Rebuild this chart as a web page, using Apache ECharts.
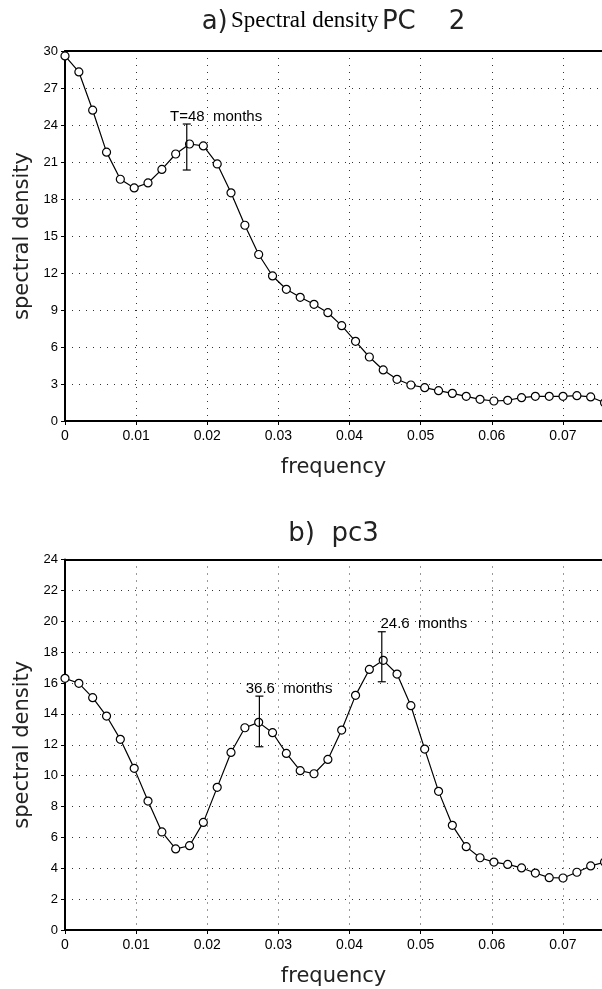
<!DOCTYPE html>
<html>
<head>
<meta charset="utf-8">
<script src="https://cdn.jsdelivr.net/npm/echarts@6/dist/echarts.min.js"></script>
<style>
html,body{margin:0;padding:0;background:#fff;}
#chart{width:602px;height:989px;}
</style>
</head>
<body>
<div id="chart"></div>
<script>
// frequencies of the spectral estimates
const freq = [0, 0.00195, 0.00389, 0.00584, 0.00778, 0.00973, 0.01167, 0.01362, 0.01556, 0.01751,
  0.01945, 0.0214, 0.02334, 0.02529, 0.02723, 0.02918, 0.03112, 0.03307, 0.03501, 0.03696,
  0.0389, 0.04085, 0.04279, 0.04474, 0.04668, 0.04863, 0.05057, 0.05252, 0.05446, 0.05641,
  0.05835, 0.0603, 0.06224, 0.06419, 0.06613, 0.06808, 0.07002, 0.07197, 0.07391, 0.07586];

// a) PC 2 spectral density
const densityPC2 = [29.6, 28.3, 25.2, 21.8, 19.6, 18.9, 19.3, 20.4, 21.65, 22.46,
  22.3, 20.84, 18.5, 15.87, 13.5, 11.76, 10.68, 10.03, 9.46, 8.78,
  7.73, 6.46, 5.19, 4.14, 3.38, 2.92, 2.7, 2.46, 2.24, 2.0,
  1.76, 1.62, 1.68, 1.89, 2.0, 2.0, 2.0, 2.05, 1.95, 1.48];

// b) pc3 spectral density
const densityPC3 = [16.3, 15.98, 15.05, 13.86, 12.35, 10.47, 8.35, 6.35, 5.25, 5.46,
  6.97, 9.24, 11.5, 13.1, 13.45, 12.78, 11.44, 10.32, 10.12, 11.05,
  12.95, 15.2, 16.88, 17.47, 16.58, 14.53, 11.72, 8.98, 6.78, 5.4,
  4.68, 4.4, 4.25, 4.02, 3.69, 3.39, 3.37, 3.74, 4.15, 4.4];

// error bars: [frequency, low, high, labelFreq, labelValue]
const errPC2 = [[0.01712, 20.35, 24.08, 0.01477, 24.65]];
const errPC2Labels = ['T=48  months'];
const errPC3 = [[0.02733, 11.87, 15.15, 0.02541, 15.65], [0.04454, 16.08, 19.32, 0.04435, 19.86]];
const errPC3Labels = ['36.6  months', '24.6  months'];

const yTicksTop = {min: 0, max: 30, interval: 3};
const yTicksBottom = {min: 0, max: 24, interval: 2};
const xRange = {min: 0, max: 0.0755, interval: 0.01};

const FONT = 'Liberation Sans';
const NAMEFONT = 'DejaVu Sans';
const dotted = {color: '#333', width: 1, type: [1, 6]};

function xAxisBottom(gridIndex) {
  return {
    type: 'value', gridIndex: gridIndex, position: 'bottom',
    min: xRange.min, max: xRange.max, interval: xRange.interval,
    name: 'frequency', nameLocation: 'middle', nameGap: 36,
    nameTextStyle: {fontFamily: NAMEFONT, fontSize: 21, color: '#222'},
    axisLine: {show: true, onZero: false, lineStyle: {color: '#000', width: 2}},
    axisTick: {show: true, length: 4, lineStyle: {color: '#000'}},
    axisLabel: {fontFamily: FONT, fontSize: 14, color: '#000', margin: 8, showMaxLabel: false,
      formatter: v => (v === 0 ? '0' : v.toFixed(2))},
    splitLine: {show: true, lineStyle: dotted}
  };
}
function xAxisTop(gridIndex, title, rich, gap) {
  return {
    type: 'value', gridIndex: gridIndex, position: 'top',
    min: xRange.min, max: xRange.max,
    name: title, nameLocation: 'middle', nameGap: gap,
    nameTextStyle: {rich: rich},
    axisLine: {show: true, onZero: false, lineStyle: {color: '#000', width: 2}},
    axisTick: {show: false}, axisLabel: {show: false}, splitLine: {show: false}
  };
}
function yAxis(gridIndex, t) {
  return {
    type: 'value', gridIndex: gridIndex, min: t.min, max: t.max, interval: t.interval,
    name: 'spectral density', nameLocation: 'middle', nameGap: 27,
    nameTextStyle: {fontFamily: NAMEFONT, fontSize: 21, color: '#222'},
    axisLine: {show: true, lineStyle: {color: '#000', width: 2}},
    axisTick: {show: true, length: 4, lineStyle: {color: '#000'}},
    axisLabel: {fontFamily: FONT, fontSize: 13, color: '#000', margin: 7},
    splitLine: {show: true, lineStyle: dotted}
  };
}
function lineSeries(idx, vals) {
  return {
    type: 'line', xAxisIndex: idx * 2, yAxisIndex: idx,
    data: freq.map((f, i) => [f, vals[i]]),
    symbol: 'circle', symbolSize: 8, showAllSymbol: true, clip: false,
    lineStyle: {color: '#000', width: 1.2},
    itemStyle: {color: '#fff', borderColor: '#000', borderWidth: 1.2},
    emphasis: {disabled: true}, animation: false, z: 3
  };
}
function errSeries(idx, data, labels) {
  return {
    type: 'custom', xAxisIndex: idx * 2, yAxisIndex: idx, data: data, animation: false, z: 4,
    renderItem: function (params, api) {
      const x = api.value(0);
      const lo = api.coord([x, api.value(1)]);
      const hi = api.coord([x, api.value(2)]);
      const t = api.coord([api.value(3), api.value(4)]);
      const st = {stroke: '#000', lineWidth: 1.2};
      return {
        type: 'group', children: [
          {type: 'line', shape: {x1: lo[0], y1: lo[1], x2: hi[0], y2: hi[1]}, style: st},
          {type: 'line', shape: {x1: lo[0] - 4, y1: lo[1], x2: lo[0] + 4, y2: lo[1]}, style: st},
          {type: 'line', shape: {x1: hi[0] - 4, y1: hi[1], x2: hi[0] + 4, y2: hi[1]}, style: st},
          {type: 'text', x: t[0], y: t[1], style: {text: labels[params.dataIndex], fill: '#000',
            font: '15px "' + FONT + '"', textAlign: 'left', textVerticalAlign: 'middle'}}
        ]
      };
    }
  };
}

const chart = echarts.init(document.getElementById('chart'), null, {renderer: 'canvas'});
chart.setOption({
  backgroundColor: '#fff',
  animation: false,
  grid: [
    {left: 65, right: 0, top: 51, height: 370},
    {left: 65, right: 0, top: 559.5, height: 370.5}
  ],
  xAxis: [
    xAxisBottom(0),
    xAxisTop(0, '{s|a)} {t|Spectral density} {s|PC    2}', {
      s: {fontFamily: NAMEFONT, fontSize: 26, color: '#222'},
      t: {fontFamily: 'Liberation Serif', fontSize: 23, color: '#000', padding: [0, 0, 4, 0]}
    }, 15),
    xAxisBottom(1),
    xAxisTop(1, '{s|b)  pc3}', {s: {fontFamily: NAMEFONT, fontSize: 26, color: '#222'}}, 12)
  ],
  yAxis: [yAxis(0, yTicksTop), yAxis(1, yTicksBottom)],
  series: [
    lineSeries(0, densityPC2),
    lineSeries(1, densityPC3),
    errSeries(0, errPC2, errPC2Labels),
    errSeries(1, errPC3, errPC3Labels)
  ]
});
</script>
</body>
</html>
